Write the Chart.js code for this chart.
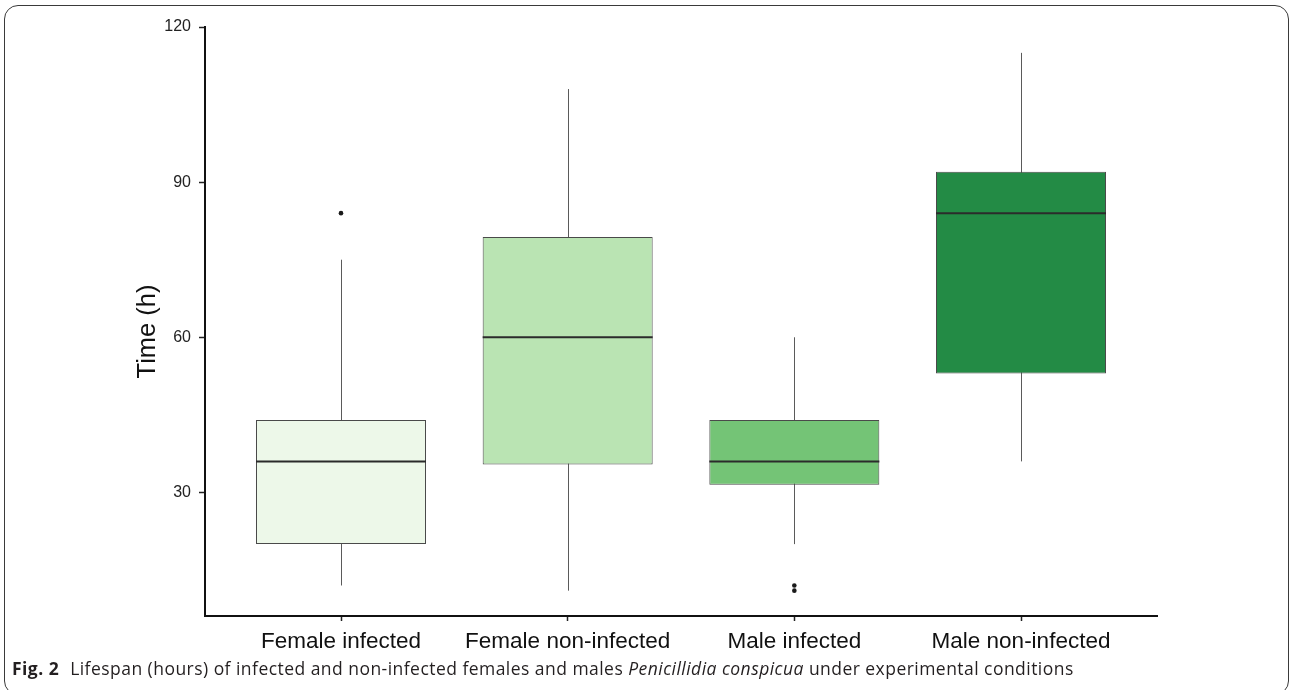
<!DOCTYPE html>
<html>
<head>
<meta charset="utf-8">
<script src="https://cdn.jsdelivr.net/npm/chart.js@4.4.1/dist/chart.umd.min.js"></script>
<style>
  html, body { margin: 0; padding: 0; background: #fff; }
  #frame { position: absolute; left: 4px; top: 5px; width: 1285px; height: 690px;
           border: 1.2px solid #3a3a3a; border-radius: 14px; box-sizing: border-box; }
  #plot { position: absolute; left: 0; top: 0; }
  #caption { position: absolute; left: 12px; top: 656px; font-family: "Open Sans", sans-serif;
             font-size: 17.5px; letter-spacing: 0.46px; color: #231f20; white-space: nowrap; }
  #caption b { font-weight: 700; margin-right: 6px; }
</style>
</head>
<body>
<div id="frame"></div>
<canvas id="plot" width="1290" height="660"></canvas>
<div id="caption"><b>Fig. 2</b> Lifespan (hours) of infected and non-infected females and males <i>Penicillidia conspicua</i> under experimental conditions</div>
<script>
// Groups and five-number summaries (hours)
const categories = ['Female infected', 'Female non-infected', 'Male infected', 'Male non-infected'];
const whiskerLow  = [12, 11, 20, 36];
const lowerQuart  = [20, 35.4, 31.5, 53];
const medians     = [36, 60, 36, 84];
const upperQuart  = [44, 79.4, 44, 92];
const whiskerHigh = [75, 108, 60, 115];
// Outlying observations: group index and value
const outlierGroup  = [0, 2, 2];
const outlierValues = [84, 12, 11];
const boxColors = ['#edf8e9', '#bae4b3', '#74c476', '#238b45'];
const yTicks = [30, 60, 90, 120];
const yTitle = 'Time (h)';

const AXIS_FONT = '"Liberation Sans", Arial, sans-serif';

// Whiskers under the boxes, median bars on top, rotated y title
const boxplotExtras = {
  id: 'boxplotExtras',
  beforeDatasetsDraw(chart) {
    const { ctx, scales: { x, y } } = chart;
    ctx.save();
    ctx.strokeStyle = '#5a5a5a';
    ctx.lineWidth = 1;
    categories.forEach((c, i) => {
      const px = Math.round(x.getPixelForValue(i + 1)) + 0.5;
      ctx.beginPath();
      ctx.moveTo(px, y.getPixelForValue(whiskerHigh[i]));
      ctx.lineTo(px, y.getPixelForValue(whiskerLow[i]));
      ctx.stroke();
    });
    ctx.restore();
  },
  afterDatasetsDraw(chart) {
    const { ctx, scales: { x, y } } = chart;
    const bars = chart.getDatasetMeta(0).data;
    ctx.save();
    ctx.strokeStyle = '#2b2b2b';
    ctx.lineWidth = 2;
    categories.forEach((c, i) => {
      const px = x.getPixelForValue(i + 1);
      const half = bars[i].width / 2;
      const py = y.getPixelForValue(medians[i]);
      ctx.beginPath();
      ctx.moveTo(px - half, py);
      ctx.lineTo(px + half, py);
      ctx.stroke();
    });
    ctx.restore();
  },
  afterDraw(chart) {
    const { ctx, scales: { y } } = chart;
    ctx.save();
    ctx.translate(148, (y.top + y.bottom) / 2 + 10);
    ctx.rotate(-Math.PI / 2);
    ctx.font = '25.5px ' + AXIS_FONT;
    ctx.fillStyle = '#111';
    ctx.textAlign = 'center';
    ctx.textBaseline = 'middle';
    ctx.fillText(yTitle, 0, 0);
    ctx.restore();
  }
};

new Chart(document.getElementById('plot'), {
  type: 'bar',
  data: {
    datasets: [
      {
        type: 'bar',
        data: categories.map((c, i) => ({ x: i + 1, y: [lowerQuart[i], upperQuart[i]] })),
        backgroundColor: boxColors,
        borderColor: '#4a4a4a',
        borderWidth: 1,
        borderSkipped: false,
        barPercentage: 0.75,
        categoryPercentage: 1
      },
      {
        type: 'scatter',
        data: outlierValues.map((v, k) => ({ x: outlierGroup[k] + 1, y: v })),
        pointRadius: 2.3,
        pointBackgroundColor: '#1a1a1a',
        pointBorderWidth: 0
      }
    ]
  },
  options: {
    responsive: false,
    animation: false,
    devicePixelRatio: 1,
    layout: { padding: { left: 0, top: 27, right: 133, bottom: 0 } },
    plugins: { legend: { display: false }, tooltip: { enabled: false } },
    scales: {
      x: {
        type: 'linear',
        min: 0.4,
        max: 4.6,
        offset: false,
        afterBuildTicks(axis) { axis.ticks = categories.map((c, i) => ({ value: i + 1 })); },
        afterFit(axis) { axis.height = 44; },
        ticks: {
          callback: (v) => categories[Math.round(v) - 1],
          font: { family: AXIS_FONT, size: 22.5 },
          color: '#111',
          padding: 7,
          autoSkip: false,
          maxRotation: 0
        },
        grid: { offset: false, drawOnChartArea: false, drawTicks: true, tickLength: 5, tickWidth: 1.5, tickColor: '#222' },
        border: { display: true, color: '#111', width: 2 }
      },
      y: {
        min: 6.1,
        max: 120,
        afterBuildTicks(axis) { axis.ticks = yTicks.map(v => ({ value: v })); },
        afterFit(axis) { axis.width = 205; },
        ticks: {
          font: { family: AXIS_FONT, size: 16 },
          color: '#222',
          padding: 8
        },
        grid: { drawOnChartArea: false, drawTicks: true, tickLength: 6, tickWidth: 1.5, tickColor: '#222' },
        border: { display: true, color: '#111', width: 2 }
      }
    }
  },
  plugins: [boxplotExtras]
});
</script>
</body>
</html>
